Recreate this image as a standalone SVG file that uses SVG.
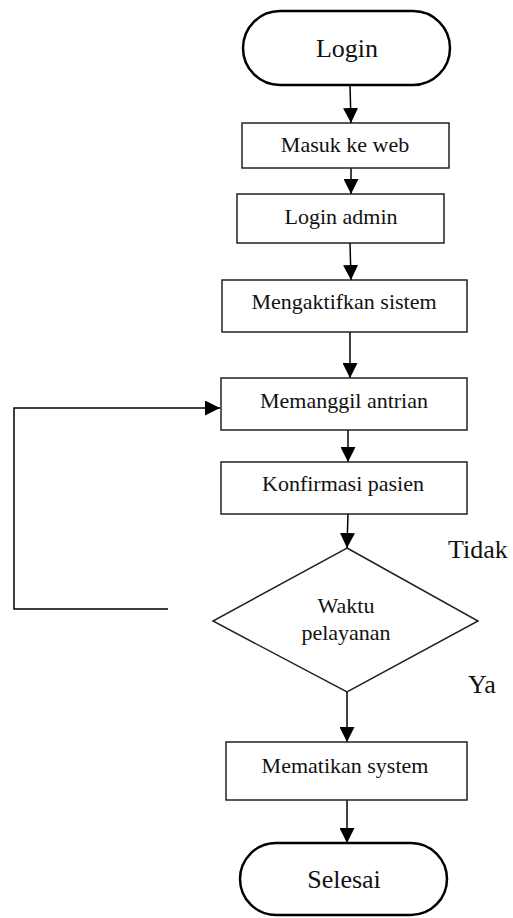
<svg xmlns="http://www.w3.org/2000/svg" width="513" height="918" viewBox="0 0 513 918">
<defs>
<marker id="ah" markerUnits="userSpaceOnUse" markerWidth="15" markerHeight="15" viewBox="0 0 14 14" refX="14" refY="7" orient="auto">
<path d="M0,0 L14,7 L0,14 z" fill="#000"/>
</marker>
<style>
.box{fill:#fff;stroke:#222;stroke-width:1.5}
.term{fill:#fff;stroke:#000;stroke-width:2.5}
.t{font-family:"Liberation Serif","Times New Roman",serif;font-size:22px;fill:#111;text-anchor:middle}
.tl{font-family:"Liberation Serif","Times New Roman",serif;font-size:26px;fill:#111;text-anchor:middle}
.lab{font-family:"Liberation Serif","Times New Roman",serif;font-size:26px;fill:#111}
.c{fill:none;stroke:#000;stroke-width:1.5}
.ca{fill:none;stroke:#000;stroke-width:1.5;marker-end:url(#ah)}
</style>
</defs>
<rect width="513" height="918" fill="#fff"/>
<g id="connectors">
<line class="ca" x1="350" y1="85" x2="351" y2="123"/>
<line class="ca" x1="351" y1="168" x2="351" y2="194"/>
<line class="ca" x1="350" y1="243" x2="351" y2="280"/>
<line class="ca" x1="350" y1="332" x2="350" y2="378"/>
<line class="ca" x1="348" y1="430" x2="348" y2="462"/>
<line class="ca" x1="348" y1="514" x2="347" y2="548"/>
<line class="ca" x1="347" y1="692" x2="347" y2="742"/>
<line class="ca" x1="347" y1="800" x2="347" y2="843"/>
<polyline class="ca" points="168,609 14,609 14,408 220,408"/>
</g>
<g id="login">
<rect class="term" x="243" y="11" width="207" height="74" rx="37" ry="37"/>
<text class="tl" x="347" y="57">Login</text>
</g>
<g id="masuk">
<rect class="box" x="242" y="123" width="207" height="45"/>
<text class="t" x="345" y="152">Masuk ke web</text>
</g>
<g id="loginadmin">
<rect class="box" x="237" y="194" width="207" height="49"/>
<text class="t" x="341" y="224">Login admin</text>
</g>
<g id="mengaktifkan">
<rect class="box" x="222" y="280" width="245" height="52"/>
<text class="t" x="344" y="309">Mengaktifkan sistem</text>
</g>
<g id="memanggil">
<rect class="box" x="221" y="378" width="246" height="52"/>
<text class="t" x="344" y="408">Memanggil antrian</text>
</g>
<g id="konfirmasi">
<rect class="box" x="221" y="462" width="246" height="52"/>
<text class="t" x="343" y="491">Konfirmasi pasien</text>
</g>
<g id="waktu">
<polygon class="box" points="347,548 478,621 347,692 213,621"/>
<text class="t" x="346" y="613">Waktu</text>
<text class="t" x="346" y="640">pelayanan</text>
</g>
<g id="labels">
<text class="lab" x="448" y="558">Tidak</text>
<text class="lab" x="468" y="693">Ya</text>
</g>
<g id="mematikan">
<rect class="box" x="226" y="742" width="241" height="58"/>
<text class="t" x="345" y="773">Mematikan system</text>
</g>
<g id="selesai">
<rect class="term" x="240" y="843" width="207" height="72" rx="36" ry="36"/>
<text class="tl" x="344" y="888">Selesai</text>
</g>
</svg>
